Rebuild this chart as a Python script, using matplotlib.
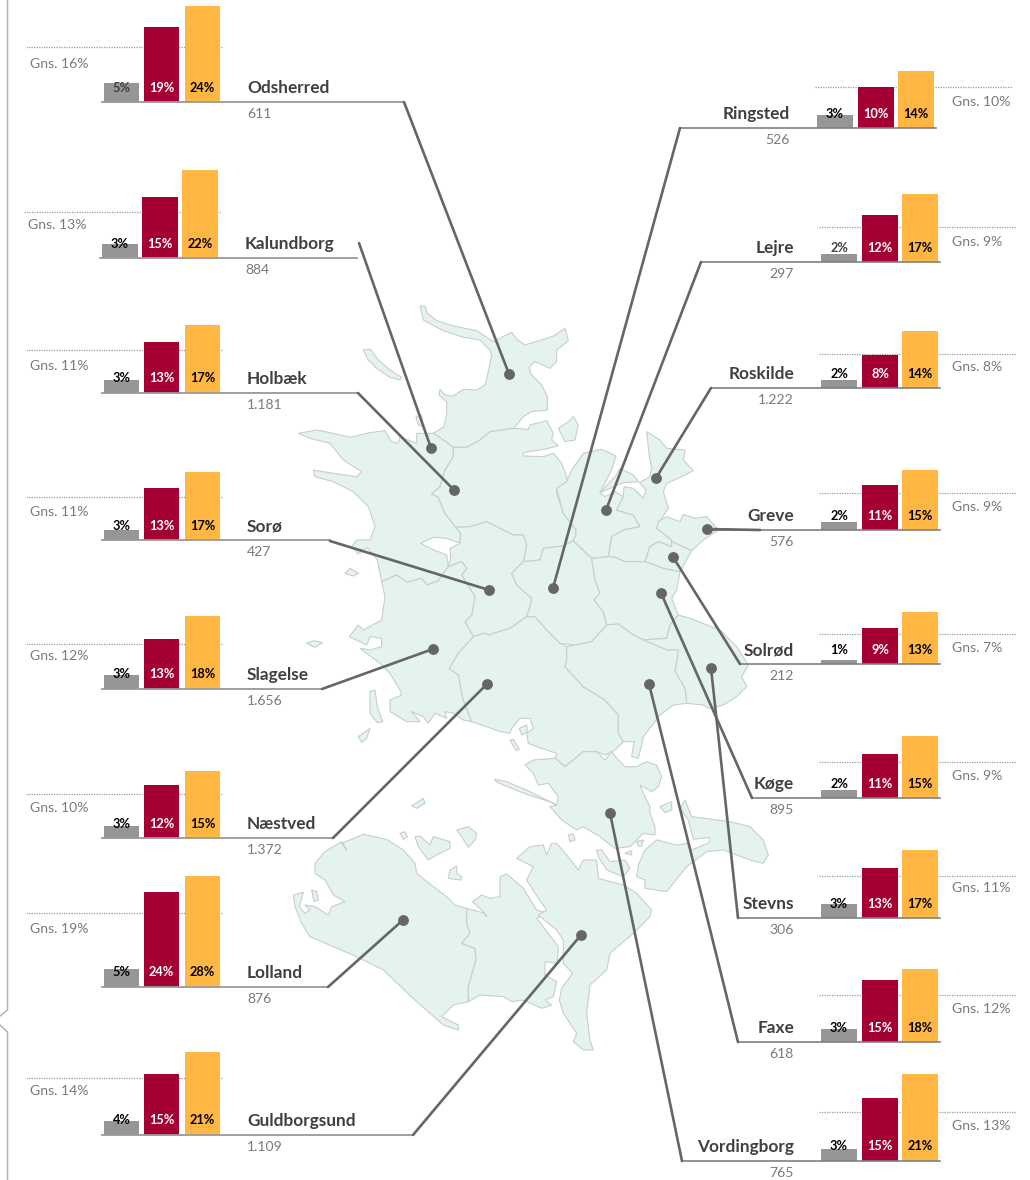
import matplotlib
matplotlib.use("Agg")
import matplotlib.pyplot as plt
from matplotlib.patches import Polygon

plt.rcParams['font.family'] = ['Lato', 'DejaVu Sans']

# left column, top to bottom, then right column
names = ['Odsherred', 'Kalundborg', 'Holbæk', 'Sorø', 'Slagelse', 'Næstved', 'Lolland', 'Guldborgsund',
         'Ringsted', 'Lejre', 'Roskilde', 'Greve', 'Solrød', 'Køge', 'Stevns', 'Faxe', 'Vordingborg']
counts = ['611', '884', '1.181', '427', '1.656', '1.372', '876', '1.109',
          '526', '297', '1.222', '576', '212', '895', '306', '618', '765']
gns = [16, 13, 11, 11, 12, 10, 19, 14, 10, 9, 8, 9, 7, 9, 11, 12, 13]

# printed labels
gray_labels = [5, 3, 3, 3, 3, 3, 5, 4, 3, 2, 2, 2, 1, 2, 3, 3, 3]
red_labels = [19, 15, 13, 13, 13, 12, 24, 15, 10, 12, 8, 11, 9, 11, 13, 15, 15]
orange_labels = [24, 22, 17, 17, 18, 15, 28, 21, 14, 17, 14, 15, 13, 15, 17, 18, 21]

# bar heights as drawn (percent, each small chart has its own rounding)
gray_vals = [4.8, 3.5, 3.2, 2.5, 3.5, 3.0, 4.5, 3.5, 3.2, 2.0, 2.0, 2.0, 1.0, 2.0, 3.5, 3.2, 3.0]
red_vals = [18.8, 15.2, 12.8, 13.0, 12.5, 13.2, 23.8, 15.2, 10.2, 11.8, 8.2, 11.2, 9.0, 11.0, 12.5, 15.5, 15.8]
orange_vals = [24.0, 22.0, 17.0, 17.0, 18.2, 16.8, 27.8, 20.8, 14.2, 17.0, 14.2, 15.0, 13.0, 15.5, 17.0, 18.2, 21.8]
avg_vals = [13.8, 11.5, 10.8, 10.8, 11.2, 11.0, 18.5, 14.2, 10.2, 8.8, 8.5, 9.2, 7.5, 9.0, 10.5, 11.8, 12.2]

# layout, pixels
base_y = [102, 258, 393, 540, 689, 838, 987, 1135, 128, 262, 388, 530, 664, 798, 918, 1042, 1161]
bar_x = [104, 102, 104, 104, 104, 104, 104, 104, 817, 821, 821, 821, 821, 821, 821, 821, 821]
gns_y = [63, 224, 365, 511, 655, 807, 928, 1090, 101, 241, 366, 506, 647, 775, 887, 1008, 1125]
line_end = [404, 357, 358, 330, 322, 333, 328, 413, 680, 701, 711, 707, 740, 752, 738, 738, 682]
conn_from = [(404, 102), (359, 243), (358, 393), (330, 541), (322, 689), (333, 838), (328, 987), (413, 1135),
             (680, 128), (701, 262), (711, 388), (760, 530), (740, 664), (752, 798), (738, 918), (738, 1042), (682, 1161)]
dots = [(509, 374), (431, 448), (454, 490), (489, 590), (433, 649), (487, 684), (403, 920), (581, 935),
        (553, 588), (606, 510), (656, 478), (707, 529), (673, 557), (661, 593), (711, 668), (649, 684), (610, 813)]

GRAY = '#969696'
RED = '#A50034'
ORANGE = '#FFB643'
LAND = '#E5F3F0'
EDGE = '#C8CECC'

# map shapes, traced in zoomed units: x = 290 + zx / 3, y = 300 + zy / 3
land = {
    'odsherred': [(390, 18), (405, 18), (412, 40), (440, 62), (490, 78), (560, 92), (610, 125), (665, 97), (680, 118), (705, 135), (760, 118), (790, 108), (825, 85), (835, 122), (800, 150), (800, 185), (780, 205), (735, 185), (718, 200), (722, 222), (755, 255), (772, 290), (772, 330), (725, 335), (700, 350), (672, 385), (600, 395), (570, 420), (530, 442), (490, 442), (460, 420), (430, 400), (462, 380), (470, 340), (470, 305), (447, 285), (450, 268), (465, 285), (490, 288), (520, 268), (560, 270), (585, 255), (595, 215), (605, 165), (600, 150), (570, 120), (520, 112), (460, 92), (400, 60)],
    'kalundborg': [(25, 400), (60, 415), (120, 430), (160, 480), (215, 515), (200, 530), (130, 520), (70, 510), (75, 530), (130, 545), (190, 575), (235, 620), (255, 680), (240, 720), (200, 720), (185, 740), (205, 762), (232, 742), (262, 780), (275, 845), (320, 825), (350, 847), (395, 835), (410, 855), (445, 842), (475, 800), (470, 765), (420, 745), (392, 730), (430, 712), (470, 715), (510, 730), (512, 700), (497, 682), (465, 640), (445, 592), (425, 582), (450, 560), (465, 510), (490, 470), (490, 442), (460, 420), (430, 400), (380, 400), (380, 430), (330, 410), (325, 430), (305, 425), (285, 392), (240, 398), (180, 412), (130, 400), (80, 390)],
    'holbaek': [(490, 442), (530, 442), (570, 420), (600, 395), (672, 385), (715, 388), (720, 375), (770, 362), (790, 400), (785, 420), (805, 438), (760, 448), (700, 458), (700, 468), (760, 470), (790, 460), (815, 490), (830, 530), (830, 545), (800, 565), (800, 580), (820, 640), (858, 690), (858, 705), (850, 722), (820, 738), (760, 745), (750, 780), (700, 785), (710, 735), (700, 705), (670, 705), (620, 680), (590, 665), (540, 680), (497, 682), (465, 640), (445, 592), (425, 582), (450, 560), (465, 510), (490, 470)],
    'soroe': [(497, 682), (540, 680), (590, 665), (620, 680), (670, 705), (700, 705), (710, 735), (700, 785), (665, 820), (680, 855), (725, 895), (720, 920), (710, 950), (660, 985), (610, 1000), (600, 1005), (580, 1000), (550, 1010), (525, 965), (545, 945), (555, 890), (515, 825), (530, 805), (515, 785), (475, 800), (482, 770), (480, 745), (510, 730), (512, 700)],
    'slagelse': [(275, 845), (320, 825), (350, 847), (395, 835), (410, 855), (445, 842), (475, 800), (515, 785), (530, 805), (515, 825), (555, 890), (545, 945), (525, 965), (550, 1010), (505, 1060), (478, 1105), (505, 1125), (520, 1200), (545, 1265), (520, 1260), (490, 1240), (465, 1235), (470, 1255), (435, 1240), (415, 1270), (400, 1250), (365, 1235), (390, 1265), (350, 1265), (300, 1235), (300, 1200), (335, 1185), (330, 1170), (300, 1120), (270, 1090), (210, 1045), (240, 1050), (275, 1040), (275, 1015), (240, 1010), (230, 1035), (178, 1010), (205, 975), (220, 990), (275, 960), (285, 890)],
    'naestved': [(550, 1010), (580, 1000), (600, 1005), (610, 1000), (660, 985), (710, 950), (735, 950), (770, 990), (810, 1030), (830, 1040), (830, 1080), (825, 1100), (880, 1160), (945, 1200), (985, 1245), (985, 1300), (1000, 1325), (975, 1350), (945, 1365), (920, 1355), (880, 1355), (825, 1400), (795, 1375), (800, 1360), (740, 1340), (715, 1330), (710, 1300), (730, 1285), (720, 1255), (690, 1255), (665, 1285), (660, 1300), (630, 1295), (590, 1280), (545, 1265), (520, 1200), (505, 1125), (478, 1105), (505, 1060)],
    'ringsted': [(760, 745), (820, 738), (850, 722), (905, 775), (915, 840), (930, 880), (912, 900), (940, 935), (950, 975), (905, 1025), (855, 1035), (810, 1030), (770, 990), (735, 950), (710, 950), (720, 920), (725, 895), (680, 855), (665, 820), (700, 785), (750, 780)],
    'lejre': [(800, 565), (820, 640), (858, 690), (858, 705), (850, 722), (905, 775), (955, 770), (965, 710), (1000, 690), (1050, 680), (1030, 645), (980, 630), (1000, 590), (975, 575), (945, 590), (930, 578), (965, 510), (978, 468), (935, 448), (880, 460), (845, 510), (830, 545)],
    'lejre_strip': [(930, 578), (975, 530), (990, 505), (1030, 525), (1045, 545), (1000, 548), (960, 565)],
    'roskilde': [(955, 770), (965, 710), (1000, 690), (1050, 680), (1030, 645), (980, 630), (1000, 590), (1002, 560), (1030, 565), (1060, 595), (1068, 570), (1048, 548), (1080, 530), (1085, 505), (1078, 470), (1070, 395), (1110, 420), (1130, 445), (1185, 450), (1180, 480), (1210, 512), (1175, 530), (1130, 550), (1120, 575), (1135, 625), (1105, 670), (1100, 685), (1145, 720), (1145, 740), (1105, 725), (1080, 740), (1065, 785), (1005, 785), (975, 772)],
    'greve': [(1105, 665), (1130, 650), (1170, 665), (1180, 643), (1215, 655), (1250, 650), (1285, 690), (1240, 720), (1205, 752), (1145, 725), (1145, 720), (1100, 685)],
    'solroed': [(1065, 785), (1080, 740), (1105, 725), (1145, 740), (1145, 725), (1205, 752), (1170, 815), (1120, 805)],
    'koege': [(905, 775), (955, 770), (975, 772), (1005, 785), (1065, 785), (1120, 805), (1170, 815), (1160, 870), (1145, 895), (1165, 945), (1140, 975), (1130, 1015), (1060, 1020), (1030, 1005), (985, 972), (950, 975), (940, 935), (912, 900), (930, 880), (915, 840)],
    'stevns': [(1140, 975), (1165, 945), (1200, 955), (1290, 990), (1340, 1040), (1375, 1095), (1355, 1130), (1370, 1160), (1340, 1190), (1300, 1215), (1255, 1225), (1240, 1215), (1190, 1210), (1185, 1165), (1155, 1115), (1165, 1050), (1130, 1050), (1060, 1020), (1130, 1015)],
    'faxe': [(950, 975), (985, 972), (1030, 1005), (1060, 1020), (1130, 1050), (1165, 1050), (1155, 1115), (1185, 1165), (1190, 1210), (1150, 1215), (1110, 1245), (1060, 1310), (1055, 1335), (1045, 1375), (1025, 1370), (1032, 1325), (1000, 1325), (985, 1300), (985, 1245), (945, 1200), (880, 1160), (825, 1100), (830, 1080), (830, 1040), (855, 1035), (905, 1025)],
    'isl1': [(220, 150), (240, 147), (265, 180), (300, 210), (335, 232), (330, 240), (300, 232), (260, 205), (235, 180)],
    'isl2': [(378, 350), (395, 345), (400, 380), (385, 375)],
    'isl3': [(165, 820), (180, 805), (205, 820), (190, 828)],
    'isl4': [(50, 1030), (70, 1022), (98, 1028), (75, 1042)],
    'isl5': [(805, 385), (835, 365), (850, 350), (865, 375), (855, 420), (825, 425)],
}

# south part, traced in a second crop: x = 290 + zx / 3, y = 680 + zy / 3
land_south = {
    'vordingborg': [(705, 255), (730, 240), (795, 235), (825, 260), (880, 215), (920, 215), (945, 240), (965, 215), (985, 240), (1005, 260), (1040, 260), (1070, 245), (1100, 255), (1115, 290), (1105, 320), (1085, 335), (1050, 315), (1062, 345), (1080, 380), (1080, 400), (1095, 440), (1095, 465), (1060, 460), (1020, 500), (975, 505), (930, 470), (880, 440), (860, 450), (815, 420), (780, 380), (800, 375), (805, 350), (775, 310), (745, 315), (730, 280)],
    'sandbar': [(615, 298), (650, 305), (720, 335), (790, 370), (800, 375), (780, 365), (715, 345), (640, 315), (618, 305)],
    'moen': [(1040, 590), (1045, 555), (1065, 510), (1100, 480), (1160, 495), (1190, 490), (1205, 510), (1258, 488), (1258, 472), (1210, 478), (1195, 420), (1170, 385), (1185, 360), (1205, 410), (1320, 425), (1380, 440), (1420, 480), (1435, 525), (1420, 550), (1380, 540), (1300, 510), (1250, 515), (1190, 560), (1130, 635), (1065, 625), (1065, 600)],
    'bogoe': [(920, 510), (935, 510), (960, 545), (1005, 540), (1020, 565), (1000, 590), (950, 570), (925, 530)],
    'lolland': [(75, 550), (105, 515), (155, 485), (170, 510), (155, 490), (220, 463), (290, 478), (340, 510), (375, 550), (380, 580), (430, 620), (470, 650), (495, 675), (530, 685), (530, 730), (540, 760), (515, 790), (555, 805), (558, 840), (535, 920), (535, 965), (490, 975), (455, 1010), (505, 1035), (505, 1050), (460, 1035), (380, 965), (280, 870), (200, 830), (60, 770), (35, 730), (15, 680), (10, 645), (40, 637), (28, 680), (45, 700), (60, 690), (45, 675), (75, 680), (115, 705), (125, 680), (165, 665), (130, 645), (105, 600), (75, 580)],
    'lolland_east': [(530, 685), (585, 700), (590, 710), (575, 690), (548, 665), (575, 645), (600, 655), (630, 650), (630, 590), (650, 582), (700, 625), (740, 690), (770, 700), (740, 715), (790, 780), (805, 800), (802, 850), (765, 845), (765, 885), (800, 905), (790, 950), (765, 960), (785, 975), (755, 985), (700, 960), (665, 965), (640, 950), (570, 945), (535, 965), (535, 920), (558, 840), (555, 805), (515, 790), (540, 760), (530, 730)],
    'falster': [(680, 535), (720, 500), (760, 495), (770, 525), (785, 490), (800, 490), (830, 525), (865, 570), (880, 540), (920, 540), (925, 595), (1000, 615), (1040, 640), (1085, 690), (1080, 710), (1030, 760), (960, 820), (950, 870), (900, 915), (890, 1000), (900, 1080), (910, 1110), (880, 1110), (850, 1085), (860, 1060), (820, 1000), (808, 960), (815, 925), (848, 880), (820, 850), (820, 780), (800, 750), (745, 705), (770, 690), (745, 655), (710, 600), (730, 560)],
    'isl_a': [(240, 35), (255, 30), (262, 80), (278, 125), (262, 128), (240, 100)],
    'isl_b': [(205, 170), (240, 145), (230, 175), (215, 188)],
    'isl_c': [(660, 180), (670, 178), (688, 208), (678, 212)],
    'isl_d': [(688, 145), (710, 135), (712, 155), (695, 165)],
    'isl_e': [(1110, 380), (1145, 365), (1145, 390), (1125, 398)],
    'isl_f': [(835, 465), (850, 462), (855, 480), (840, 485)],
    'isl_g': [(1040, 485), (1060, 480), (1055, 498), (1045, 498)],
    'isl_h': [(1005, 520), (1025, 512), (1025, 525)],
    'isl_i': [(365, 378), (400, 355), (405, 370), (380, 385)],
    'isl_j': [(330, 460), (345, 455), (352, 470), (340, 478)],
    'isl_k': [(375, 470), (390, 468), (420, 495), (430, 470), (480, 485), (480, 505), (440, 525), (415, 540), (385, 500)],
    'isl_l': [(500, 450), (535, 440), (560, 460), (555, 480), (535, 502), (515, 470)],
    'isl_m': [(480, 570), (500, 558), (500, 580), (515, 590), (512, 600), (475, 595)],
    'isl_n': [(65, 630), (80, 635), (85, 660), (72, 665)],
}

fig = plt.figure(figsize=(10.3, 11.8), dpi=100)
ax = fig.add_axes([0, 0, 1, 1])
ax.set_xlim(0, 1030)
ax.set_ylim(1180, 0)
ax.axis('off')

# the map
for pts in land.values():
    xy = [(290 + x / 3, 300 + y / 3) for x, y in pts]
    ax.add_patch(Polygon(xy, closed=True, fc=LAND, ec=EDGE, lw=0.8, joinstyle='round', zorder=1))
for pts in land_south.values():
    xy = [(290 + x / 3, 680 + y / 3) for x, y in pts]
    ax.add_patch(Polygon(xy, closed=True, fc=LAND, ec=EDGE, lw=0.8, joinstyle='round', zorder=1))

# bracket on the far left
ax.plot([7.5, 7.5, 0], [0, 1010, 1016], color='#B4B4B4', lw=1.1, zorder=2)
ax.plot([0, 7.5, 7.5], [1025, 1032, 1180], color='#B4B4B4', lw=1.1, zorder=2)

for i, name in enumerate(names):
    left = i < 8
    x0 = bar_x[i]
    base = base_y[i]
    if left:
        xs = [x0, x0 + 40, x0 + 81]
        bar_w = 35
    else:
        xs = [x0, x0 + 41, x0 + 81]
        bar_w = 36
    if name == 'Kalundborg':
        xs = [x0, x0 + 40, x0 + 80]
        bar_w = 36

    # average line goes behind the bars
    avg_y = base - avg_vals[i] * 4
    if left:
        ax.plot([x0 - 78, x0 + 118], [avg_y, avg_y], color='#9A9A9A', lw=0.9, ls=(0, (1, 1)), zorder=2)
        ax.text(x0 - 74, gns_y[i] + 1, f'Gns. {gns[i]}%', color='#7A7A7A', fontsize=10.1, va='center', ha='left', zorder=7)
    else:
        ax.plot([x0 - 2, x0 + 195], [avg_y, avg_y], color='#9A9A9A', lw=0.9, ls=(0, (1, 1)), zorder=2)
        ax.text(952, gns_y[i] + 1, f'Gns. {gns[i]}%', color='#7A7A7A', fontsize=10.1, va='center', ha='left', zorder=7)

    vals = [gray_vals[i], red_vals[i], orange_vals[i]]
    labs = [gray_labels[i], red_labels[i], orange_labels[i]]
    cols = [GRAY, RED, ORANGE]
    ax.bar(xs, [-v * 4 for v in vals], bottom=base, width=bar_w, align='edge', color=cols, lw=0, zorder=3)

    for x, lab, c in zip(xs, labs, cols):
        tc = 'black'
        if c == RED:
            tc = 'white'
        elif c == GRAY and name in ('Odsherred', 'Lejre'):
            tc = '#404040'
        ax.text(x + bar_w / 2, base - 14.5, f'{lab}%', color=tc, fontsize=9.2, fontweight='bold', ha='center', va='center', zorder=7)

    # base line and leader
    if left:
        ax.plot([x0 - 2, line_end[i]], [base, base], color='#999999', lw=1.3, zorder=4)
        ax.text(x0 + 143, base - 14, name, color='#404040', fontsize=12.4, fontweight='bold', ha='left', va='center', zorder=7)
        ax.text(x0 + 143, base + 12, counts[i], color='#7A7A7A', fontsize=10.1, ha='left', va='center', zorder=7)
    else:
        ax.plot([line_end[i], x0 + 119], [base, base], color='#808080', lw=1.2, zorder=4)
        ax.text(x0 - 27, base - 14, name, color='#404040', fontsize=12.4, fontweight='bold', ha='right', va='center', zorder=7)
        ax.text(x0 - 27, base + 12, counts[i], color='#7A7A7A', fontsize=10.1, ha='right', va='center', zorder=7)

    fx, fy = conn_from[i]
    dx, dy = dots[i]
    ax.plot([fx, dx], [fy, dy], color='#666666', lw=1.9, zorder=5, solid_capstyle='round')
    ax.plot([dx], [dy], 'o', color='#666666', ms=7.8, mew=0, zorder=6)

fig.savefig('out.png', dpi=100)
